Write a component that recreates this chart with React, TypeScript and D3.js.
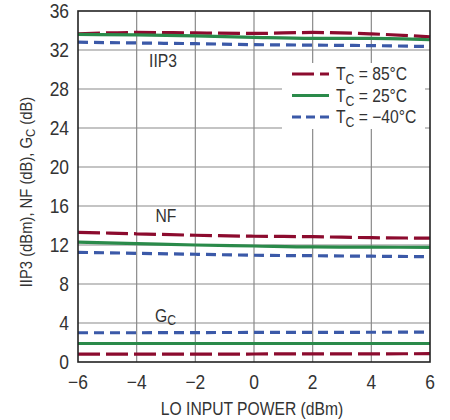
import React from "react";
import * as d3 from "d3";

const xTicks = [-6, -4, -2, 0, 2, 4, 6];
const yTicks = [0, 4, 8, 12, 16, 20, 24, 28, 32, 36];
const loPower = [-6, -4, -2, 0, 2, 4, 6];

const iip3_85 = [33.65, 33.8, 33.75, 33.7, 33.8, 33.65, 33.35];
const iip3_25 = [33.6, 33.55, 33.45, 33.3, 33.2, 33.2, 33.05];
const iip3_m40 = [32.8, 32.72, 32.65, 32.55, 32.5, 32.45, 32.35];
const nf_85 = [13.3, 13.15, 13.0, 12.9, 12.85, 12.75, 12.7];
const nf_25 = [12.3, 12.15, 12.0, 11.9, 11.8, 11.78, 11.75];
const nf_m40 = [11.25, 11.15, 11.05, 10.95, 10.9, 10.85, 10.8];
const gc_85 = [0.8, 0.8, 0.8, 0.82, 0.83, 0.84, 0.85];
const gc_25 = [1.9, 1.9, 1.9, 1.9, 1.9, 1.9, 1.9];
const gc_m40 = [3.0, 3.0, 3.02, 3.03, 3.04, 3.05, 3.06];

const seriesStyles = [
  { name: "85", color: "#8c0b2e", dash: "22,6" },
  { name: "25", color: "#2a8a4a", dash: "" },
  { name: "m40", color: "#3b59a8", dash: "10,6" },
];
const legendLabels = ["85°C", "25°C", "−40°C"];

const FONT = "'Liberation Sans Narrow', 'Liberation Sans', Arial, sans-serif";
const SX = 0.87;

function NText(props: {
  x: number;
  y: number;
  anchor?: string;
  size: number;
  rotate?: number;
  children: React.ReactNode;
}) {
  const { x, y, anchor = "start", size, rotate = 0, children } = props;
  return (
    <g transform={`translate(${x},${y}) rotate(${rotate}) scale(${SX},1)`}>
      <text x={0} y={0} textAnchor={anchor} fontSize={size} fill="#333">
        {children}
      </text>
    </g>
  );
}

export default function App() {
  const W = 450, H = 420;
  const L = 78, R = 430, T = 11, B = 362;
  const x = d3.scaleLinear().domain([-6, 6]).range([L, R]);
  const y = d3.scaleLinear().domain([0, 36]).range([B, T]);
  const line = d3
    .line<number>()
    .x((_, i) => x(loPower[i]))
    .y((d) => y(d))
    .curve(d3.curveMonotoneX);

  const groups = [
    [iip3_85, iip3_25, iip3_m40],
    [nf_85, nf_25, nf_m40],
    [gc_85, gc_25, gc_m40],
  ];

  return (
    <svg width={W} height={H} style={{ position: "absolute", left: 0, top: 0 }} fontFamily={FONT}>
      <rect x={0} y={0} width={W} height={H} fill="#fff" />
      {/* grid */}
      {xTicks.slice(1, -1).map((t) => (
        <line key={"gx" + t} x1={x(t)} x2={x(t)} y1={T} y2={B} stroke="#8a8a8a" strokeWidth={1.2} />
      ))}
      {yTicks.slice(1, -1).map((t) => (
        <line key={"gy" + t} x1={L} x2={R} y1={y(t)} y2={y(t)} stroke="#8a8a8a" strokeWidth={1.2} />
      ))}
      {/* label backgrounds */}
      <rect x={142} y={51} width={40} height={22} fill="#fff" />
      <rect x={150} y={207} width={32} height={20} fill="#fff" />
      <rect x={150} y={302} width={32} height={20} fill="#fff" />
      <rect x={282} y={63} width={143} height={66} fill="#fff" />
      {/* series */}
      {groups.map((g, gi) =>
        g.map((vals, si) => (
          <path
            key={gi + "-" + si}
            d={line(vals) || ""}
            fill="none"
            stroke={seriesStyles[si].color}
            strokeWidth={3.2}
            strokeDasharray={seriesStyles[si].dash}
          />
        ))
      )}
      {/* frame */}
      <rect x={L} y={T} width={R - L} height={B - T} fill="none" stroke="#222" strokeWidth={1.6} />
      {/* ticks */}
      {yTicks.map((t) => (
        <NText key={"yt" + t} x={L - 9} y={y(t) + 7} anchor="end" size={20}>
          {t}
        </NText>
      ))}
      {xTicks.map((t) => (
        <NText key={"xt" + t} x={x(t)} y={389} anchor="middle" size={20}>
          {t < 0 ? "−" + Math.abs(t) : t}
        </NText>
      ))}
      {/* curve labels */}
      <NText x={163} y={67} anchor="middle" size={18}>IIP3</NText>
      <NText x={166} y={222} anchor="middle" size={18}>NF</NText>
      <NText x={155} y={322} size={18}>
        G<tspan fontSize={14} dy={3}>C</tspan>
      </NText>
      {/* legend */}
      {seriesStyles.map((s, i) => (
        <g key={"lg" + i}>
          <line
            x1={292}
            x2={329}
            y1={74 + i * 21.5}
            y2={74 + i * 21.5}
            stroke={s.color}
            strokeWidth={3.2}
            strokeDasharray={s.dash ? (i === 0 ? "22,6" : "9,5") : ""}
          />
          <NText x={336} y={80 + i * 21.5} size={18}>
            T<tspan fontSize={14} dy={4}>C</tspan>
            <tspan dy={-4}> = {legendLabels[i]}</tspan>
          </NText>
        </g>
      ))}
      {/* axis titles */}
      <NText x={252} y={415} anchor="middle" size={18}>LO INPUT POWER (dBm)</NText>
      <NText x={32} y={192} anchor="middle" size={17} rotate={-90}>
        IIP3 (dBm), NF (dB), G<tspan fontSize={13} dy={3}>C</tspan>
        <tspan dy={-3}> (dB)</tspan>
      </NText>
    </svg>
  );
}
